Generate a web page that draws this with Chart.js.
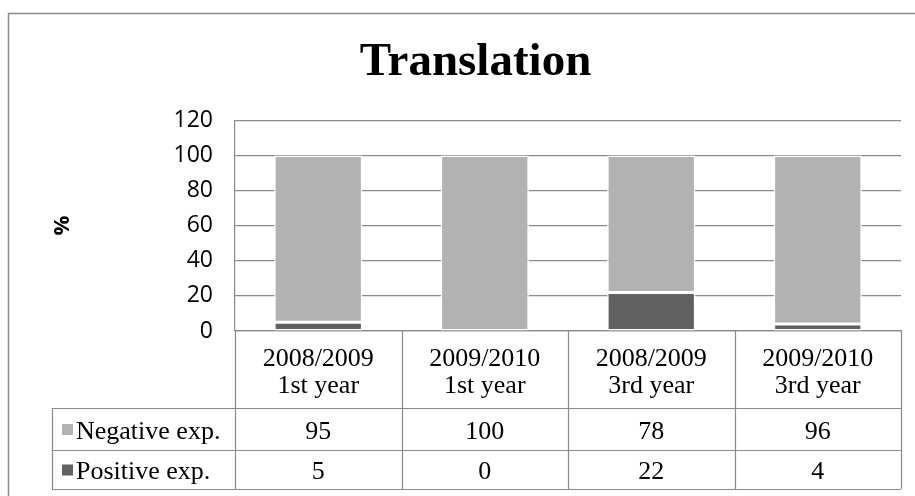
<!DOCTYPE html>
<html>
<head>
<meta charset="utf-8">
<script src="https://cdn.jsdelivr.net/npm/chart.js@4/dist/chart.umd.min.js"></script>
<style>
html,body{margin:0;padding:0;background:#fff;}
#wrap{width:915px;height:496px;position:relative;}
</style>
</head>
<body>
<div id="wrap"><canvas id="c" width="915" height="496"></canvas></div>
<script>
const categories = [["2008/2009","1st year"],["2009/2010","1st year"],["2008/2009","3rd year"],["2009/2010","3rd year"]];
const negativeExp = [95, 100, 78, 96];
const positiveExp = [5, 0, 22, 4];
const seriesNames = ["Negative exp.", "Positive exp."];
const yTicks = [0, 20, 40, 60, 80, 100, 120];

const NEG = '#b2b2b2', POS = '#616161', LINE = '#8a8a8a';
const SERIF = '"Liberation Serif", "Times New Roman", serif';

const tableRows = [
  {name: seriesNames[0], values: negativeExp, color: NEG},
  {name: seriesNames[1], values: positiveExp, color: POS}
];

const framePlugin = {
  id: 'frame',
  beforeDraw(chart) {
    const ctx = chart.ctx;
    ctx.save();
    ctx.fillStyle = '#fff';
    ctx.fillRect(0, 0, chart.width, chart.height);
    ctx.strokeStyle = LINE;
    ctx.lineWidth = 1.5;
    ctx.beginPath();
    ctx.moveTo(8.5, chart.height + 5);
    ctx.lineTo(8.5, 13.5);
    ctx.lineTo(chart.width + 5, 13.5);
    ctx.stroke();
    ctx.restore();
  }
};

const tablePlugin = {
  id: 'datatable',
  afterDraw(chart) {
    const ctx = chart.ctx;
    const xs = chart.scales.x;
    const n = categories.length;
    const colW = (xs.right - xs.left) / n;
    const tableLeft = 52;
    const headTop = chart.chartArea.bottom;
    const headBottom = xs.bottom;
    const rowH = [42, 39];
    const rowTops = [headBottom, headBottom + rowH[0]];
    const tableBottom = rowTops[1] + rowH[1];
    ctx.save();
    ctx.strokeStyle = LINE;
    ctx.lineWidth = 1.2;
    ctx.beginPath();
    [headBottom, rowTops[1], tableBottom].forEach(y => {
      ctx.moveTo(tableLeft, Math.round(y) + 0.5);
      ctx.lineTo(xs.right, Math.round(y) + 0.5);
    });
    for (let i = 0; i <= n; i++) {
      const x = Math.round(xs.left + i * colW) + 0.5;
      ctx.moveTo(x, headTop);
      ctx.lineTo(x, tableBottom);
    }
    ctx.moveTo(tableLeft + 0.5, headBottom);
    ctx.lineTo(tableLeft + 0.5, tableBottom);
    ctx.stroke();

    ctx.font = '26px ' + SERIF;
    ctx.fillStyle = '#000';
    ctx.textBaseline = 'middle';
    tableRows.forEach((row, r) => {
      const cy = rowTops[r] + rowH[r] / 2 + 3;
      ctx.fillStyle = row.color;
      ctx.fillRect(tableLeft + 10, cy - 8, 11, 11);
      ctx.fillStyle = '#000';
      ctx.textAlign = 'left';
      ctx.fillText(row.name, tableLeft + 24, cy);
      ctx.textAlign = 'center';
      row.values.forEach((v, i) => {
        ctx.fillText(String(v), xs.getPixelForValue(i), cy);
      });
    });
    ctx.restore();
  }
};

Chart.defaults.color = '#000';

new Chart(document.getElementById('c'), {
  type: 'bar',
  data: {
    labels: categories,
    datasets: [
      {label: seriesNames[1], data: positiveExp, backgroundColor: POS, borderColor: '#ffffff', borderWidth: 1.5, borderSkipped: false},
      {label: seriesNames[0], data: negativeExp, backgroundColor: NEG, borderColor: '#ffffff', borderWidth: 1.5, borderSkipped: false}
    ]
  },
  options: {
    responsive: false,
    animation: false,
    layout: {padding: {top: 0, left: 50, right: 14, bottom: 88}},
    datasets: {bar: {barPercentage: 0.53, categoryPercentage: 1}},
    plugins: {
      legend: {display: false},
      tooltip: {enabled: false},
      title: {
        display: true,
        text: 'Translation',
        color: '#000',
        font: {family: SERIF, size: 47, weight: 'bold'},
        padding: {top: 35, bottom: 29}
      }
    },
    scales: {
      x: {
        stacked: true,
        grid: {display: false, drawTicks: false},
        border: {display: true, color: LINE, width: 1.2},
        ticks: {
          font: {family: SERIF, size: 26, lineHeight: 1.06},
          color: '#000',
          padding: 14,
          maxRotation: 0,
          autoSkip: false
        },
        afterFit(scale) { scale.height = 77; }
      },
      y: {
        stacked: true,
        min: 0,
        max: 120,
        afterBuildTicks(scale) { scale.ticks = yTicks.map(v => ({value: v})); },
        grid: {color: LINE, lineWidth: 1.2, drawTicks: false},
        border: {display: true, color: LINE, width: 1.2},
        ticks: {
          font: {family: '"Open Sans", sans-serif', size: 23},
          color: '#000',
          padding: 22
        },
        title: {
          display: true,
          text: '%',
          color: '#000',
          font: {family: '"Open Sans", sans-serif', size: 22, weight: 'bold'},
          padding: 0
        },
        afterFit(scale) { scale.width = 185; }
      }
    }
  },
  plugins: [framePlugin, tablePlugin]
});
</script>
</body>
</html>
